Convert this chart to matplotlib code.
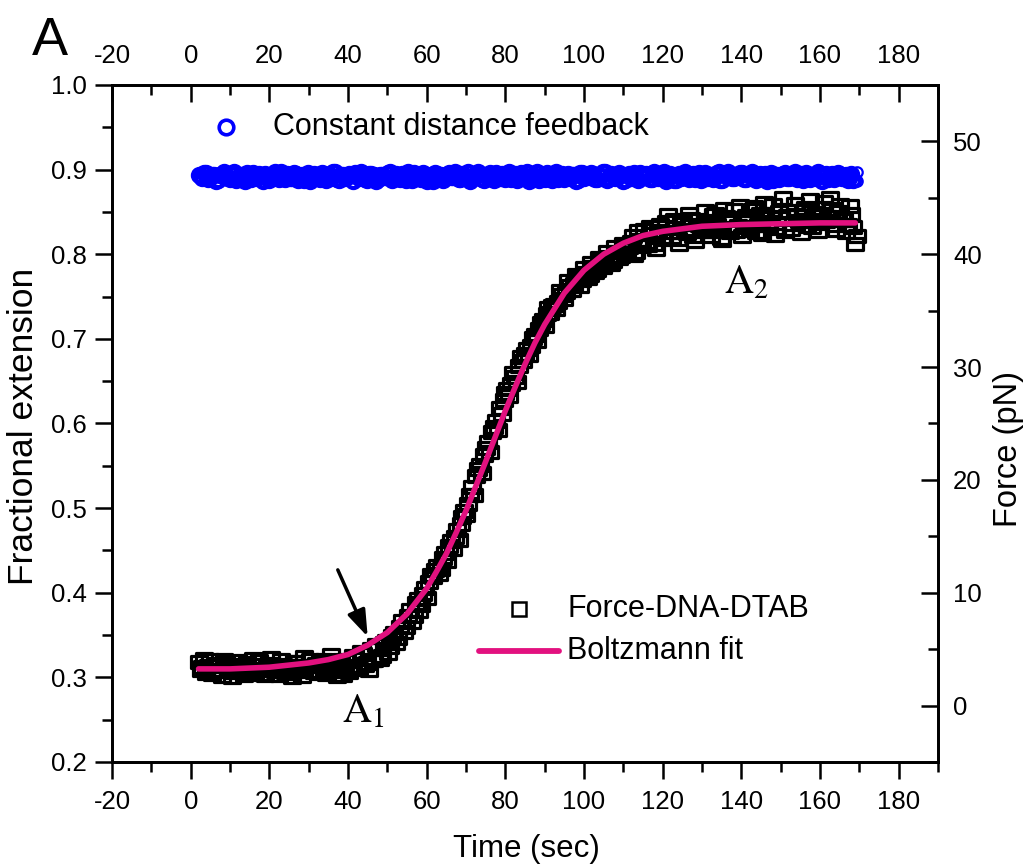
import numpy as np
import matplotlib
matplotlib.use("Agg")
import matplotlib.pyplot as plt
from matplotlib.path import Path
from matplotlib.ticker import MultipleLocator, FormatStrFormatter

plt.rcParams['font.family'] = ['Liberation Sans', 'DejaVu Sans']
plt.rcParams['mathtext.fontset'] = 'stix'
plt.rcParams['axes.unicode_minus'] = False

# ---------------- data ----------------
# Force-DNA-DTAB, fractional extension (one value per ~1 s, t = 2..169 s)
dtab_ext = [
    0.318, 0.312, 0.305, 0.321, 0.309, 0.314, 0.302, 0.317, 0.311, 0.306,
    0.319, 0.308, 0.313, 0.304, 0.322, 0.310, 0.315, 0.303, 0.316, 0.309,
    0.312, 0.320, 0.306, 0.314, 0.301, 0.318, 0.311, 0.324, 0.307, 0.313,
    0.316, 0.305, 0.321, 0.310, 0.326, 0.308, 0.315, 0.303, 0.319, 0.312,
    0.322, 0.310, 0.328, 0.317, 0.334, 0.320, 0.333, 0.325, 0.343, 0.336,
    0.352, 0.347, 0.366, 0.360, 0.379, 0.372, 0.392, 0.385, 0.405, 0.413,
    0.418, 0.432, 0.428, 0.447, 0.455, 0.452, 0.474, 0.481, 0.497, 0.505,
    0.525, 0.538, 0.551, 0.563, 0.578, 0.590, 0.603, 0.618, 0.628, 0.641,
    0.647, 0.655, 0.668, 0.674, 0.688, 0.692, 0.705, 0.712, 0.722, 0.729,
    0.731, 0.740, 0.744, 0.752, 0.755, 0.763, 0.765, 0.772, 0.770, 0.778,
    0.776, 0.785, 0.781, 0.793, 0.788, 0.797, 0.792, 0.803, 0.798, 0.806,
    0.808, 0.822, 0.803, 0.817, 0.829, 0.811, 0.824, 0.806, 0.835, 0.818,
    0.846, 0.820, 0.831, 0.812, 0.838, 0.825, 0.842, 0.816, 0.834, 0.827,
    0.839, 0.822, 0.848, 0.830, 0.817, 0.844, 0.826, 0.852, 0.833, 0.821,
    0.845, 0.829, 0.856, 0.835, 0.824, 0.848, 0.838, 0.858, 0.831, 0.843,
    0.827, 0.851, 0.836, 0.846, 0.825, 0.855, 0.840, 0.832, 0.849, 0.837,
    0.862, 0.844, 0.853, 0.829, 0.858, 0.841, 0.835, 0.848, 0.812,
]

# second set of Force-DNA-DTAB readings, between the ones above
dtab_ext_b = [
    0.309, 0.322, 0.313, 0.304, 0.316, 0.307, 0.320, 0.310, 0.301, 0.315,
    0.311, 0.303, 0.317, 0.309, 0.306, 0.319, 0.304, 0.312, 0.323, 0.307,
    0.303, 0.315, 0.310, 0.305, 0.318, 0.309, 0.302, 0.314, 0.321, 0.306,
    0.308, 0.318, 0.304, 0.314, 0.311, 0.302, 0.321, 0.309, 0.306, 0.325,
    0.314, 0.330, 0.315, 0.309, 0.321, 0.338, 0.322, 0.340, 0.329, 0.349,
    0.341, 0.360, 0.353, 0.372, 0.365, 0.388, 0.378, 0.398, 0.394, 0.421,
    0.427, 0.422, 0.441, 0.437, 0.461, 0.466, 0.462, 0.489, 0.492, 0.516,
    0.515, 0.546, 0.541, 0.571, 0.566, 0.596, 0.592, 0.611, 0.636, 0.633,
    0.660, 0.649, 0.679, 0.682, 0.681, 0.701, 0.697, 0.719, 0.715, 0.736,
    0.739, 0.735, 0.756, 0.747, 0.768, 0.758, 0.775, 0.763, 0.784, 0.772,
    0.790, 0.779, 0.796, 0.785, 0.803, 0.789, 0.809, 0.795, 0.812, 0.800,
    0.814, 0.799, 0.827, 0.810, 0.815, 0.832, 0.812, 0.828, 0.819, 0.838,
    0.826, 0.841, 0.818, 0.836, 0.829, 0.847, 0.822, 0.840, 0.831, 0.851,
    0.828, 0.846, 0.835, 0.819, 0.853, 0.831, 0.842, 0.827, 0.857, 0.838,
    0.832, 0.852, 0.826, 0.847, 0.861, 0.834, 0.843, 0.823, 0.850, 0.866,
    0.845, 0.830, 0.859, 0.839, 0.851, 0.833, 0.864, 0.845, 0.828, 0.855,
    0.839, 0.867, 0.834, 0.850, 0.842, 0.826, 0.857, 0.832, 0.822,
]

# Constant distance feedback (two readings per ~1 s)
feedback_ext = [
    0.894, 0.890, 0.896, 0.891, 0.893, 0.888, 0.895, 0.892, 0.889, 0.897,
    0.891, 0.894, 0.887, 0.893, 0.896, 0.890, 0.892, 0.895, 0.888, 0.894,
    0.891, 0.897, 0.889, 0.893, 0.890, 0.895, 0.892, 0.888, 0.896, 0.891,
    0.893, 0.889, 0.895, 0.892, 0.890, 0.897, 0.888, 0.894, 0.891, 0.893,
    0.896, 0.890, 0.892, 0.888, 0.895, 0.893, 0.889, 0.894, 0.891, 0.897,
    0.890, 0.893, 0.895, 0.888, 0.892, 0.896, 0.891, 0.889, 0.894, 0.892,
    0.887, 0.895, 0.893, 0.890, 0.896, 0.891, 0.894, 0.889, 0.893, 0.897,
    0.890, 0.892, 0.895, 0.888, 0.893, 0.891, 0.896, 0.890, 0.894, 0.892,
    0.889, 0.895, 0.891, 0.893, 0.897, 0.890, 0.892, 0.888, 0.894, 0.896,
    0.891, 0.893, 0.889, 0.895, 0.892, 0.890, 0.894, 0.888, 0.896, 0.893,
    0.891, 0.895, 0.889, 0.892, 0.897, 0.890, 0.894, 0.891, 0.893, 0.888,
    0.895, 0.892, 0.890, 0.896, 0.891, 0.893, 0.889, 0.894, 0.892, 0.897,
    0.890, 0.893, 0.888, 0.895, 0.891, 0.894, 0.892, 0.889, 0.896, 0.893,
    0.890, 0.894, 0.891, 0.897, 0.888, 0.893, 0.895, 0.890, 0.892, 0.896,
    0.889, 0.894, 0.891, 0.893, 0.890, 0.895, 0.892, 0.888, 0.894, 0.891,
    0.896, 0.890, 0.893, 0.889, 0.895, 0.892, 0.891, 0.894, 0.890, 0.893,
    0.892, 0.889, 0.895, 0.891, 0.894, 0.890, 0.888, 0.895,
]
feedback_ext_b = [
    0.892, 0.896, 0.889, 0.894, 0.887, 0.893, 0.897, 0.890, 0.895, 0.888,
    0.893, 0.890, 0.896, 0.889, 0.892, 0.895, 0.887, 0.894, 0.891, 0.897,
    0.889, 0.893, 0.895, 0.890, 0.896, 0.888, 0.894, 0.891, 0.887, 0.895,
    0.890, 0.896, 0.888, 0.893, 0.897, 0.889, 0.894, 0.890, 0.895, 0.887,
    0.892, 0.897, 0.889, 0.895, 0.890, 0.887, 0.894, 0.891, 0.896, 0.888,
    0.895, 0.889, 0.891, 0.897, 0.888, 0.894, 0.890, 0.896, 0.887, 0.893,
    0.896, 0.890, 0.888, 0.894, 0.891, 0.897, 0.889, 0.895, 0.890, 0.887,
    0.894, 0.897, 0.889, 0.892, 0.896, 0.888, 0.893, 0.895, 0.889, 0.897,
    0.893, 0.888, 0.896, 0.890, 0.887, 0.894, 0.897, 0.891, 0.889, 0.895,
    0.888, 0.897, 0.892, 0.889, 0.895, 0.893, 0.887, 0.896, 0.890, 0.894,
    0.896, 0.889, 0.894, 0.897, 0.888, 0.895, 0.890, 0.896, 0.887, 0.893,
    0.890, 0.896, 0.888, 0.893, 0.895, 0.889, 0.897, 0.890, 0.894, 0.887,
    0.895, 0.888, 0.894, 0.890, 0.897, 0.889, 0.895, 0.893, 0.888, 0.896,
    0.894, 0.889, 0.896, 0.888, 0.893, 0.897, 0.890, 0.894, 0.896, 0.889,
    0.893, 0.897, 0.888, 0.895, 0.891, 0.887, 0.896, 0.893, 0.889, 0.895,
    0.890, 0.894, 0.897, 0.893, 0.888, 0.896, 0.889, 0.891, 0.897, 0.887,
    0.895, 0.893, 0.889, 0.896, 0.890, 0.894, 0.892, 0.888,
]
feedback_last = [0.897, 0.887]   # the two open circles at the very end

# Boltzmann fit curve
fit_time = [2, 10, 20, 30, 35, 40, 45, 50, 55, 60, 62.5, 65, 67.5, 70, 72.5,
            75, 77.5, 80, 82.5, 85, 87.5, 90, 95, 100, 105, 110, 115, 120,
            130, 140, 150, 160, 169]
fit_ext = [0.310, 0.310, 0.312, 0.317, 0.321, 0.327, 0.338, 0.353, 0.375,
           0.405, 0.425, 0.446, 0.471, 0.497, 0.526, 0.555, 0.585, 0.615,
           0.643, 0.670, 0.695, 0.717, 0.754, 0.781, 0.800, 0.813, 0.822,
           0.827, 0.833, 0.835, 0.836, 0.837, 0.837]

t_start, t_end = 2, 169
dtab_time = np.linspace(t_start, t_end, len(dtab_ext))
dtab_time_b = dtab_time[:len(dtab_ext_b)] + 0.5
feedback_time = np.linspace(t_start, t_end - 1, len(feedback_ext))
feedback_time_b = feedback_time[:len(feedback_ext_b)] + 0.5
feedback_time_last = [t_end + 0.4] * len(feedback_last)

x_ticks = list(range(-20, 181, 20))
y_ticks = [0.2, 0.3, 0.4, 0.5, 0.6, 0.7, 0.8, 0.9, 1.0]
force_ticks = [0, 10, 20, 30, 40, 50]

# ---------------- figure ----------------
fig = plt.figure(figsize=(10.26, 8.65), dpi=100)
ax = fig.add_axes([0.1092, 0.1191, 0.8050, 0.7827])

FIT_COLOR = '#E2117F'
BLUE = '#0000FF'
rect = Path([(-1, -0.72), (1, -0.72), (1, 0.72), (-1, 0.72), (-1, -0.72)],
            [Path.MOVETO, Path.LINETO, Path.LINETO, Path.LINETO, Path.CLOSEPOLY])

ax.plot(np.concatenate([feedback_time, feedback_time_b]),
        np.concatenate([feedback_ext, feedback_ext_b]),
        linestyle='none', marker='o',
        markersize=9.5, mfc='none', mec=BLUE, mew=3.0, zorder=2)
ax.plot(feedback_time_last, feedback_last, linestyle='none', marker='o',
        markersize=7.5, mfc='none', mec=BLUE, mew=1.6, zorder=2)
ax.plot(np.concatenate([dtab_time, dtab_time_b]),
        np.concatenate([dtab_ext, dtab_ext_b]), linestyle='none', marker=rect,
        markersize=11.5, mfc='none', mec='black', mew=2.3, zorder=3)
ax.plot(fit_time, fit_ext, color=FIT_COLOR, lw=4.0, solid_capstyle='round',
        zorder=4)

ax.set_xlim(-20, 190)
ax.set_ylim(0.2, 1.0)
ax.set_xticks(x_ticks)
ax.set_yticks(y_ticks)
ax.xaxis.set_minor_locator(MultipleLocator(10))
ax.yaxis.set_minor_locator(MultipleLocator(0.05))
ax.yaxis.set_major_formatter(FormatStrFormatter('%.1f'))
ax.tick_params(which='both', direction='out', top=False, right=False,
               width=1.8, labelsize=18.5)
ax.tick_params(which='major', length=12)
ax.tick_params(which='minor', length=7)
ax.tick_params(axis='x', pad=8)
ax.tick_params(axis='y', pad=6)

# top axis
axt = ax.twiny()
axt.set_xlim(ax.get_xlim())
axt.set_xticks(x_ticks)
axt.xaxis.set_minor_locator(MultipleLocator(10))
axt.tick_params(which='both', direction='in', width=1.8, labelsize=18.5, pad=12)
axt.tick_params(which='major', length=12)
axt.tick_params(which='minor', length=7)

# right axis (force)
axr = ax.twinx()
axr.set_ylim(-5, 55)
axr.set_yticks(force_ticks)
axr.yaxis.set_minor_locator(MultipleLocator(5))
axr.tick_params(which='both', direction='in', width=1.8, labelsize=18.5, pad=11)
axr.tick_params(which='major', length=12)
axr.tick_params(which='minor', length=7)

for a in (ax, axt, axr):
    for s in a.spines.values():
        s.set_linewidth(1.8)

ax.set_xlabel('Time (sec)', fontsize=22.5)
ax.xaxis.set_label_coords(0.502, -0.128)
ax.xaxis.label.set_va('center')
ax.set_ylabel('Fractional extension', fontsize=25.5)
ax.yaxis.set_label_coords(-0.107, 0.496)
ax.yaxis.label.set_va('center')
axr.set_ylabel('Force (pN)', fontsize=23.5)
axr.yaxis.set_label_coords(1.085, 0.462)
axr.yaxis.label.set_va('center')

# legend entries
ax.plot([9.0], [0.9506], linestyle='none', marker='o', markersize=10.5,
        mfc='none', mec=BLUE, mew=2.6, clip_on=False, zorder=5)
ax.text(20.9, 0.9506, 'Constant distance feedback', fontsize=22,
        va='center', ha='left')
ax.plot([83.6], [0.381], linestyle='none', marker='s', markersize=10,
        mfc='white', mec='black', mew=1.8, zorder=5)
ax.text(95.7, 0.381, 'Force-DNA-DTAB', fontsize=22, va='center', ha='left')
ax.plot([73.4, 93.7], [0.331, 0.331], color=FIT_COLOR, lw=4.2,
        solid_capstyle='round', zorder=5)
ax.text(95.7, 0.331, 'Boltzmann fit', fontsize=22, va='center', ha='left')

# annotations
ax.annotate('', xy=(45.0, 0.348), xytext=(37.4, 0.427),
            arrowprops=dict(arrowstyle='-|>,head_length=0.8,head_width=0.28',
                            lw=2.5, color='black', mutation_scale=20,
                            shrinkA=0, shrinkB=0), zorder=6)
ax.text(38.4, 0.246, r'$\mathrm{A}_1$', fontsize=29, ha='left', va='baseline')
ax.text(135.6, 0.754, r'$\mathrm{A}_2$', fontsize=29, ha='left', va='baseline')

fig.text(0.031, 0.9364, 'A', fontsize=39, ha='left', va='baseline')

fig.savefig('out.png', dpi=100, facecolor='white')
